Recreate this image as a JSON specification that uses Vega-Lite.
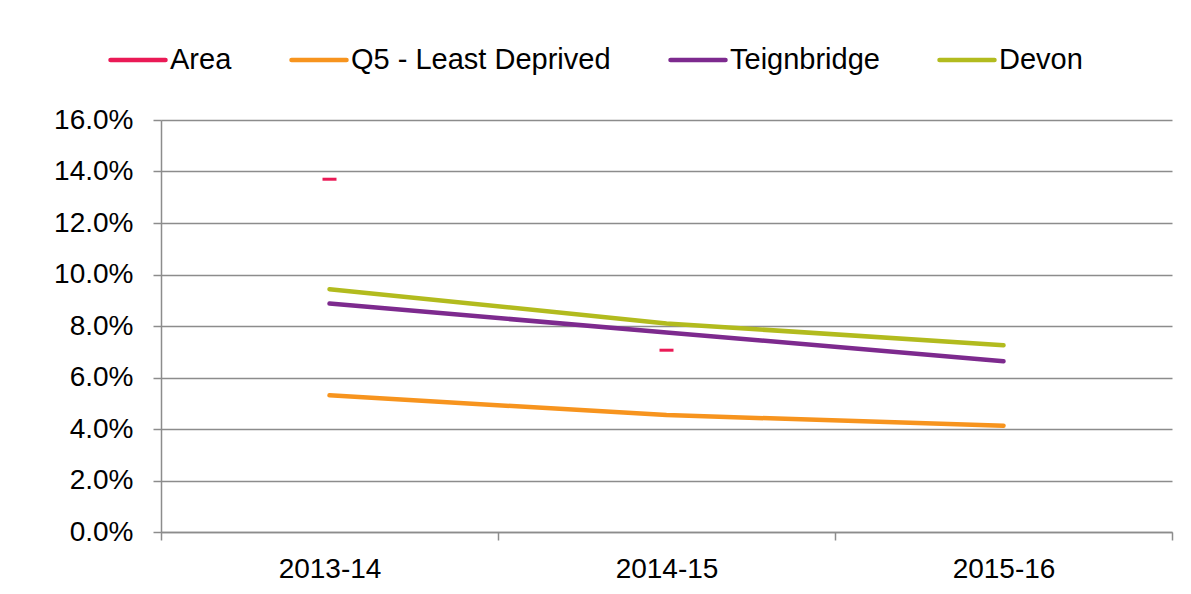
{
  "$schema": "https://vega.github.io/schema/vega-lite/v6.json",
  "width": 1011,
  "height": 412,
  "autosize": {"type": "none"},
  "padding": {"left": 161, "top": 120, "right": 19, "bottom": 62},
  "background": "white",
  "config": {
    "font": "Liberation Sans",
    "view": {"stroke": null},
    "axis": {
      "labelFont": "Liberation Sans",
      "labelFontSize": 28,
      "labelColor": "#000000",
      "domainColor": "#8c8c8c",
      "domainWidth": 1.5,
      "tickColor": "#8c8c8c",
      "tickWidth": 1.5,
      "tickSize": 8,
      "gridColor": "#8c8c8c",
      "gridWidth": 1.5,
      "title": null
    },
    "legend": {
      "labelFont": "Liberation Sans",
      "labelFontSize": 29,
      "labelColor": "#000000",
      "labelLimit": 0,
      "padding": 0
    }
  },
  "data": {
    "values": [
      {"year": "2013-14", "series": "Area", "value": 0.1370},
      {"year": "2014-15", "series": "Area", "value": 0.0706},
      {"year": "2013-14", "series": "Q5 - Least Deprived", "value": 0.0531},
      {"year": "2014-15", "series": "Q5 - Least Deprived", "value": 0.0454},
      {"year": "2015-16", "series": "Q5 - Least Deprived", "value": 0.0413},
      {"year": "2013-14", "series": "Teignbridge", "value": 0.0887},
      {"year": "2014-15", "series": "Teignbridge", "value": 0.0775},
      {"year": "2015-16", "series": "Teignbridge", "value": 0.0663},
      {"year": "2013-14", "series": "Devon", "value": 0.0943},
      {"year": "2014-15", "series": "Devon", "value": 0.0810},
      {"year": "2015-16", "series": "Devon", "value": 0.0725}
    ]
  },
  "encoding": {
    "x": {
      "field": "year",
      "type": "ordinal",
      "sort": ["2013-14", "2014-15", "2015-16"],
      "scale": {"type": "band", "paddingInner": 0, "paddingOuter": 0},
      "axis": {"tickBand": "extent", "labelAngle": 0, "labelPadding": 15, "grid": false}
    },
    "y": {
      "field": "value",
      "type": "quantitative",
      "scale": {"domain": [0, 0.16], "nice": false, "zero": true},
      "axis": {
        "values": [0, 0.02, 0.04, 0.06, 0.08, 0.1, 0.12, 0.14, 0.16],
        "format": ".1%",
        "grid": true,
        "labelPadding": 20
      }
    },
    "color": {
      "field": "series",
      "type": "nominal",
      "scale": {
        "domain": ["Area", "Q5 - Least Deprived", "Teignbridge", "Devon"],
        "range": ["#EA1A56", "#F7941E", "#7D2A8E", "#B2BB1E"]
      },
      "legend": {
        "orient": "none",
        "direction": "horizontal",
        "legendX": -53,
        "legendY": -90,
        "title": null,
        "symbolType": "stroke",
        "symbolSize": 3025,
        "symbolStrokeWidth": 4.5,
        "labelOffset": 2,
        "columnPadding": 50,
        "encode": {"symbols": {"update": {"strokeCap": {"value": "round"}}}}
      }
    }
  },
  "layer": [
    {
      "transform": [{"filter": "datum.series !== 'Area'"}],
      "mark": {"type": "line", "strokeWidth": 4.5, "strokeCap": "round", "strokeJoin": "round"}
    },
    {
      "transform": [{"filter": "datum.series === 'Area'"}],
      "mark": {"type": "point", "shape": "stroke", "size": 196, "strokeWidth": 3, "filled": false, "opacity": 1}
    }
  ]
}
